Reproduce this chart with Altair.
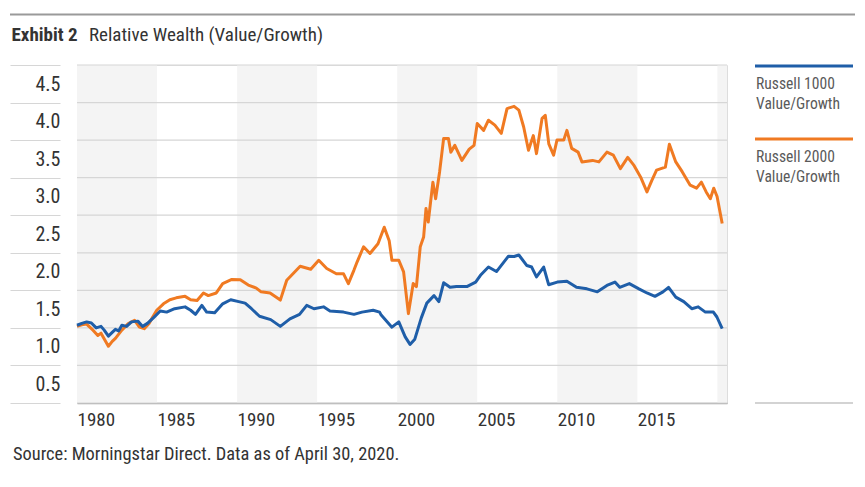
import altair as alt
import pandas as pd

# ---------------- data ----------------
r1000_t = [1980.0, 1980.3, 1980.6, 1980.9, 1981.2, 1981.5, 1981.7, 1981.96, 1982.2, 1982.4,
           1982.6, 1982.8, 1983.1, 1983.4, 1983.8, 1984.1, 1984.4, 1984.8, 1985.2, 1985.6,
           1986.1, 1986.75, 1987.1, 1987.4, 1987.8, 1988.1, 1988.6, 1989.1, 1989.6, 1990.1,
           1990.5, 1990.9, 1991.4, 1992.1, 1992.7, 1993.3, 1993.9, 1994.35, 1994.8, 1995.4,
           1995.8, 1996.65, 1997.3, 1997.8, 1998.5, 1998.9, 1999.0, 1999.67, 2000.1, 2000.5,
           2000.8, 2001.1, 2001.5, 2001.85, 2002.3, 2002.6, 2002.9, 2003.3, 2003.7, 2004.35,
           2004.9, 2005.2, 2005.7, 2006.2, 2006.95, 2007.3, 2007.6, 2008.1, 2008.4, 2008.7,
           2009.15, 2009.46, 2010.0, 2010.6, 2011.2, 2011.85, 2012.5, 2013.1, 2013.6, 2013.9,
           2014.5, 2015.1, 2015.6, 2016.1, 2016.6, 2016.95, 2017.4, 2017.9, 2018.4, 2018.8,
           2019.25, 2019.75, 2019.97, 2020.3]
r1000_v = [1.035, 1.06, 1.08, 1.065, 1.00, 1.02, 0.97, 0.89, 0.94, 0.98,
           0.96, 1.035, 1.02, 1.08, 1.09, 1.02, 1.06, 1.14, 1.225, 1.21,
           1.255, 1.28, 1.235, 1.18, 1.30, 1.21, 1.20, 1.32, 1.375, 1.35,
           1.33, 1.255, 1.155, 1.11, 1.02, 1.12, 1.18, 1.30, 1.255, 1.28,
           1.225, 1.21, 1.18, 1.21, 1.235, 1.21, 1.17, 1.01, 1.08, 0.88,
           0.78, 0.85, 1.13, 1.33, 1.43, 1.35, 1.60, 1.54, 1.55, 1.55,
           1.61, 1.70, 1.81, 1.75, 1.955, 1.95, 1.97, 1.83, 1.81, 1.68,
           1.81, 1.575, 1.61, 1.62, 1.54, 1.52, 1.48, 1.565, 1.61, 1.54,
           1.59, 1.52, 1.465, 1.42, 1.48, 1.54, 1.41, 1.35, 1.255, 1.28,
           1.21, 1.21, 1.145, 0.99]

r2000_t = [1980.0, 1980.3, 1980.6, 1981.0, 1981.3, 1981.5, 1981.96, 1982.2, 1982.4, 1982.8,
           1983.2, 1983.6, 1983.9, 1984.2, 1984.5, 1984.98, 1985.4, 1985.8, 1986.2, 1986.75,
           1987.1, 1987.5, 1987.9, 1988.2, 1988.7, 1989.1, 1989.67, 1990.2, 1990.7, 1991.2,
           1991.5, 1992.06, 1992.7, 1993.1, 1993.4, 1993.94, 1994.6, 1995.1, 1995.6, 1996.2,
           1996.65, 1996.95, 1997.3, 1997.5, 1997.9, 1998.3, 1998.8, 1999.19, 1999.5, 1999.67,
           2000.1, 2000.4, 2000.7, 2001.0, 2001.2, 2001.44, 2001.65, 2001.8, 2001.94, 2002.23,
           2002.4, 2002.65, 2002.9, 2003.2, 2003.35, 2003.6, 2004.04, 2004.5, 2004.8, 2005.0,
           2005.4, 2005.7, 2006.1, 2006.5, 2006.86, 2007.3, 2007.6, 2007.9, 2008.2, 2008.5,
           2008.7, 2009.05, 2009.25, 2009.47, 2009.77, 2009.98, 2010.4, 2010.6, 2010.9, 2011.3,
           2011.54, 2012.2, 2012.6, 2013.1, 2013.5, 2013.94, 2014.4, 2014.8, 2015.2, 2015.6,
           2015.9, 2016.2, 2016.75, 2017.0, 2017.4, 2017.8, 2018.3, 2018.7, 2019.0, 2019.3,
           2019.56, 2019.77, 2019.98, 2020.3]
r2000_v = [1.02, 1.04, 1.05, 0.97, 0.90, 0.93, 0.755, 0.82, 0.86, 0.97,
           1.057, 1.10, 1.01, 0.99, 1.06, 1.235, 1.32, 1.375, 1.40, 1.42,
           1.375, 1.365, 1.465, 1.43, 1.465, 1.59, 1.645, 1.64, 1.57, 1.53,
           1.48, 1.465, 1.37, 1.635, 1.70, 1.82, 1.78, 1.90, 1.79, 1.72,
           1.72, 1.59, 1.77, 1.88, 2.08, 1.99, 2.12, 2.34, 2.16, 1.90,
           1.90, 1.745, 1.19, 1.59, 1.55, 2.08, 2.21, 2.59, 2.41, 2.94,
           2.72, 3.08, 3.52, 3.52, 3.34, 3.43, 3.23, 3.38, 3.43, 3.72,
           3.63, 3.765, 3.70, 3.59, 3.92, 3.95, 3.90, 3.675, 3.365, 3.56,
           3.32, 3.79, 3.83, 3.45, 3.30, 3.50, 3.50, 3.63, 3.39, 3.34,
           3.21, 3.23, 3.21, 3.34, 3.30, 3.12, 3.27, 3.16, 3.01, 2.81,
           2.96, 3.10, 3.14, 3.445, 3.21, 3.08, 2.90, 2.86, 2.94, 2.81,
           2.72, 2.86, 2.75, 2.39]

series_names = ["Russell 1000 Value/Growth", "Russell 2000 Value/Growth"]
legend_line1 = ["Russell 1000", "Russell 2000"]
legend_line2 = ["Value/Growth", "Value/Growth"]
series_colors = ["#1f5ea8", "#f07a22"]

band_start = [1980, 1990, 2000, 2010, 2020]
band_end = [1985, 1995, 2005, 2015, 2020.6]
x_ticks = [1980, 1985, 1990, 1995, 2000, 2005, 2010, 2015]
y_ticks = [0.0, 0.5, 1.0, 1.5, 2.0, 2.5, 3.0, 3.5, 4.0, 4.5]

title_bold = "Exhibit 2"
title_rest = "Relative Wealth (Value/Growth)"
source_text = "Source: Morningstar Direct. Data as of April 30, 2020."

# ---------------- layout ----------------
FONT = "Liberation Sans Narrow, Roboto Condensed, DejaVu Sans Condensed, sans-serif"
W, H = 650, 338
TXT = "#333333"
GRID = "#d6d6d6"

x_scale = alt.Scale(domain=[1980, 2020.6], nice=False, zero=False)
y_scale = alt.Scale(domain=[0, 4.5], nice=False, zero=True)

x_axis = alt.Axis(values=x_ticks, format="d", grid=False, ticks=False, domain=True,
                  domainColor="#a8a8a8", domainWidth=1.5, labelAlign="left",
                  labelBaseline="top", labelPadding=7, labelFont=FONT, labelFontSize=19,
                  labelColor=TXT, title=None, labelFlush=False, labelOverlap=False)
y_axis = alt.Axis(values=y_ticks, grid=False, domain=False, ticks=True, tickSize=50,
                  tickColor=GRID, tickWidth=1.2, offset=17, labelPadding=-50,
                  labelAlign="right", labelBaseline="alphabetic", labelOffset=25,
                  labelExpr="datum.value == 0 ? '' : format(datum.value, '.1f')",
                  labelFont=FONT, labelFontSize=20, labelColor=TXT, title=None,
                  labelFlush=False, labelOverlap=False)

bands = alt.Chart(pd.DataFrame({"s": band_start, "e": band_end})).mark_rect(
    color="#f4f4f4").encode(
    x=alt.X("s:Q", scale=x_scale, axis=x_axis), x2="e:Q",
    y=alt.value(0), y2=alt.value(H))

grid = alt.Chart(pd.DataFrame({"v": y_ticks})).mark_rule(
    color=GRID, strokeWidth=1.2).encode(
    y=alt.Y("v:Q", scale=y_scale, axis=y_axis), x=alt.value(0), x2=alt.value(W))


def series_layer(t, v, name, color):
    df = pd.DataFrame({"t": t, "v": v, "series": name})
    return alt.Chart(df).mark_line(strokeWidth=3, color=color, strokeJoin="round").encode(
        x=alt.X("t:Q", scale=x_scale, axis=x_axis),
        y=alt.Y("v:Q", scale=y_scale, axis=y_axis))


line_orange = series_layer(r2000_t, r2000_v, series_names[1], series_colors[1])
line_blue = series_layer(r1000_t, r1000_v, series_names[0], series_colors[0])


def text_layer(label, x, y, size=20, weight="normal", color=TXT):
    return alt.Chart(pd.DataFrame({"label": [label]})).mark_text(
        align="left", baseline="alphabetic", font=FONT, fontSize=size,
        fontWeight=weight, color=color).encode(
        x=alt.value(x), y=alt.value(y), text="label:N")


def rule_layer(x1, x2, y, color, width):
    return alt.Chart(pd.DataFrame({"k": [0]})).mark_rule(
        color=color, strokeWidth=width).encode(
        x=alt.value(x1), x2=alt.value(x2), y=alt.value(y))


layers = [bands, grid, line_orange, line_blue,
          rule_layer(-67, 778, -50.5, "#9a9a9a", 2),
          text_layer(title_bold, -65.5, -24, 19, "bold"),
          text_layer(title_rest, 12, -24, 19),
          text_layer(source_text, -64, 395, 18.4),
          rule_layer(678, 776, 338, "#c4c4c4", 1.5)]

for i in range(2):
    y0 = 1 + i * 73
    layers.append(rule_layer(678, 776, y0, series_colors[i], 3))
    layers.append(text_layer(legend_line1[i], 679, y0 + 22.6, 15.6, color="#5a5a5a"))
    layers.append(text_layer(legend_line2[i], 679, y0 + 42.6, 15.6, color="#5a5a5a"))

chart = alt.layer(*layers).properties(
    width=W, height=H,
    autosize=alt.AutoSizeParams(type="none"),
    padding={"left": 69, "top": 57, "right": 130, "bottom": 76},
).configure_view(strokeWidth=0).configure(background="white")

chart.save("out.html", embed_options={"renderer": "svg", "actions": False})
